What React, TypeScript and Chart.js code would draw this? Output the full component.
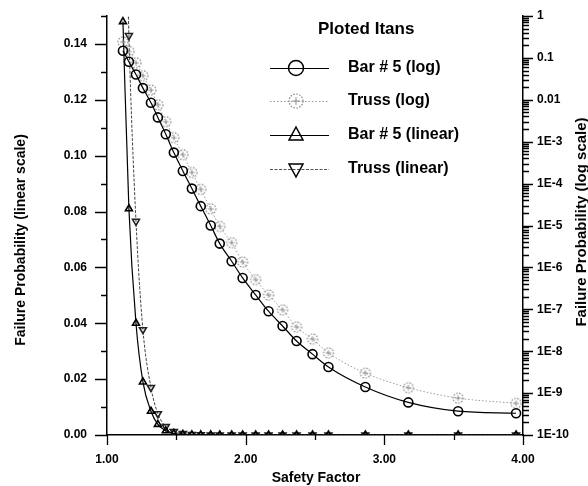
import { useEffect, useRef } from "react";
import { Chart, registerables } from "chart.js";

Chart.register(...registerables);

// ---- data ----
const safetyFactor = [
  1.115, 1.158, 1.209, 1.259, 1.317, 1.367, 1.424, 1.482, 1.547, 1.612, 1.676, 1.748, 1.813,
  1.899, 1.978, 2.072, 2.165, 2.266, 2.367, 2.482, 2.597, 2.863, 3.173, 3.532, 3.95,
];
const bar5Prob = [
  0.148, 0.081, 0.04, 0.019, 0.0085, 0.0038, 1.5e-3, 5.5e-4, 2.0e-4, 7.6e-5, 2.9e-5, 1.0e-5,
  3.7e-6, 1.4e-6, 5.6e-7, 2.2e-7, 9.0e-8, 4.0e-8, 1.75e-8, 8.5e-9, 4.2e-9, 1.4e-9, 6.0e-10,
  3.7e-10, 3.3e-10,
];
const trussProb = [
  0.24, 0.143, 0.0765, 0.0377, 0.017, 0.0076, 3.0e-3, 1.25e-3, 4.9e-4, 1.85e-4, 7.3e-5, 2.5e-5,
  9.5e-6, 3.9e-6, 1.35e-6, 5.1e-7, 2.2e-7, 9.7e-8, 3.8e-8, 1.95e-8, 9.1e-9, 3.0e-9, 1.35e-9,
  7.6e-10, 5.7e-10,
];

const xTicks = [1, 2, 3, 4];
const xMinorTicks = [1.5, 2.5, 3.5];
const linearTicks = [0, 0.02, 0.04, 0.06, 0.08, 0.1, 0.12, 0.14];
const linearMinorTicks = [0.01, 0.03, 0.05, 0.07, 0.09, 0.11, 0.13, 0.15];
const logExponents = [0, -1, -2, -3, -4, -5, -6, -7, -8, -9, -10];

const legendTitle = "Ploted Itans";
const seriesLabels = ["Bar # 5 (log)", "Truss (log)", "Bar # 5 (linear)", "Truss (linear)"];
const xTitle = "Safety Factor";
const yLeftTitle = "Failure Probability (linear scale)";
const yRightTitle = "Failure Probability (log scale)";

const FONT = '"Liberation Sans", Arial, Helvetica, sans-serif';

function logLabel(v: number): string {
  const e = Math.round(Math.log10(v));
  if (e === 0) return "1";
  if (e === -1) return "0.1";
  if (e === -2) return "0.01";
  return "1E" + e;
}

function makeTrussMarker(r: number): HTMLCanvasElement {
  const size = Math.ceil(r * 2 + 4);
  const c = document.createElement("canvas");
  c.width = size;
  c.height = size;
  const g = c.getContext("2d")!;
  const m = size / 2;
  g.strokeStyle = "#8a8a8a";
  g.lineWidth = 1.2;
  g.setLineDash([1.6, 1.4]);
  g.beginPath();
  g.arc(m, m, r, 0, Math.PI * 2);
  g.stroke();
  g.setLineDash([]);
  g.lineWidth = 1;
  g.beginPath();
  g.moveTo(m - r * 0.55, m);
  g.lineTo(m + r * 0.55, m);
  g.moveTo(m, m - r * 0.55);
  g.lineTo(m, m + r * 0.55);
  g.stroke();
  return c;
}

export default function App() {
  const ref = useRef<HTMLCanvasElement | null>(null);

  useEffect(() => {
    if (!ref.current) return;
    const trussMarker = makeTrussMarker(5);
    const trussLegendMarker = makeTrussMarker(7);

    const bar5Pts = safetyFactor.map((x, i) => ({ x, y: bar5Prob[i] }));
    const trussPts = safetyFactor.map((x, i) => ({ x, y: trussProb[i] }));

    const tickFont = { family: FONT, size: 12, weight: "bold" as const };

    const decorPlugin = {
      id: "decor",
      afterDraw(chart: any) {
        const ctx: CanvasRenderingContext2D = chart.ctx;
        const { left, right, bottom } = chart.chartArea;
        const xs = chart.scales.x;
        const yl = chart.scales.y;
        const yr = chart.scales.y2;
        ctx.save();
        ctx.strokeStyle = "#000";
        ctx.lineWidth = 1.3;
        ctx.beginPath();
        // left ticks
        linearTicks.forEach((v) => {
          const y = Math.round(yl.getPixelForValue(v)) + 0.5;
          ctx.moveTo(left - 12, y);
          ctx.lineTo(left, y);
        });
        linearMinorTicks.forEach((v) => {
          const y = Math.round(yl.getPixelForValue(v)) + 0.5;
          ctx.moveTo(left - 6, y);
          ctx.lineTo(left, y);
        });
        // bottom ticks
        xTicks.forEach((v) => {
          const x = Math.round(xs.getPixelForValue(v)) + 0.5;
          ctx.moveTo(x, bottom);
          ctx.lineTo(x, bottom + 10);
        });
        xMinorTicks.forEach((v) => {
          const x = Math.round(xs.getPixelForValue(v)) + 0.5;
          ctx.moveTo(x, bottom);
          ctx.lineTo(x, bottom + 5);
        });
        // right log ticks
        logExponents.forEach((e) => {
          const y = Math.round(yr.getPixelForValue(Math.pow(10, e))) + 0.5;
          ctx.moveTo(right, y);
          ctx.lineTo(right + 10, y);
          if (e < 0) {
            for (let k = 2; k <= 9; k++) {
              const ym = Math.round(yr.getPixelForValue(k * Math.pow(10, e))) + 0.5;
              ctx.moveTo(right, ym);
              ctx.lineTo(right + 6, ym);
            }
          }
        });
        ctx.stroke();

        // axis titles
        ctx.fillStyle = "#000";
        ctx.font = `bold 14px ${FONT}`;
        ctx.textAlign = "center";
        ctx.textBaseline = "middle";
        ctx.fillText(xTitle, (left + right) / 2 + 1, 478);
        ctx.save();
        ctx.translate(21, 240);
        ctx.rotate(-Math.PI / 2);
        ctx.fillText(yLeftTitle, 0, 0);
        ctx.restore();
        ctx.save();
        ctx.translate(582, 222);
        ctx.rotate(-Math.PI / 2);
        ctx.font = `bold 15px ${FONT}`;
        ctx.fillText(yRightTitle, 0, 0);
        ctx.restore();

        // legend
        ctx.textAlign = "left";
        ctx.font = `bold 17px ${FONT}`;
        ctx.fillText(legendTitle, 318, 29);
        const rows = [68, 101, 135, 169];
        const lx0 = 270;
        const lx1 = 329;
        const sx = 296;
        ctx.font = `bold 16px ${FONT}`;
        rows.forEach((ry, i) => {
          ctx.save();
          ctx.beginPath();
          if (i === 0 || i === 2) {
            ctx.strokeStyle = "#000";
            ctx.lineWidth = 1.2;
          } else if (i === 1) {
            ctx.strokeStyle = "#999";
            ctx.lineWidth = 1;
            ctx.setLineDash([1.5, 2]);
          } else {
            ctx.strokeStyle = "#555";
            ctx.lineWidth = 1;
            ctx.setLineDash([3, 1.5]);
          }
          ctx.moveTo(lx0, ry + 0.5);
          ctx.lineTo(lx1, ry + 0.5);
          ctx.stroke();
          ctx.setLineDash([]);
          ctx.strokeStyle = "#000";
          ctx.lineWidth = 1.5;
          if (i === 0) {
            ctx.beginPath();
            ctx.arc(sx, ry, 7.5, 0, Math.PI * 2);
            ctx.stroke();
          } else if (i === 1) {
            ctx.drawImage(trussLegendMarker, sx - trussLegendMarker.width / 2, ry - trussLegendMarker.height / 2);
          } else if (i === 2) {
            ctx.beginPath();
            ctx.moveTo(sx, ry - 8);
            ctx.lineTo(sx + 7, ry + 5);
            ctx.lineTo(sx - 7, ry + 5);
            ctx.closePath();
            ctx.stroke();
          } else {
            ctx.beginPath();
            ctx.moveTo(sx, ry + 8);
            ctx.lineTo(sx + 7, ry - 5);
            ctx.lineTo(sx - 7, ry - 5);
            ctx.closePath();
            ctx.stroke();
          }
          ctx.restore();
          ctx.fillStyle = "#000";
          ctx.textBaseline = "middle";
          ctx.fillText(seriesLabels[i], 348, ry);
        });
        ctx.restore();
      },
    };

    const chart = new Chart(ref.current, {
      type: "line",
      data: {
        datasets: [
          {
            label: seriesLabels[0],
            data: bar5Pts,
            yAxisID: "y2",
            borderColor: "#000",
            borderWidth: 1.2,
            pointStyle: "circle",
            pointRadius: 4.5,
            pointBorderWidth: 1.6,
            pointBorderColor: "#000",
            pointBackgroundColor: "rgba(0,0,0,0)",
            cubicInterpolationMode: "monotone",
            fill: false,
          },
          {
            label: seriesLabels[1],
            data: trussPts,
            yAxisID: "y2",
            borderColor: "#9a9a9a",
            borderWidth: 1,
            borderDash: [1.5, 2],
            pointStyle: trussMarker,
            pointRadius: 5,
            cubicInterpolationMode: "monotone",
            fill: false,
          },
          {
            label: seriesLabels[2],
            data: bar5Pts,
            yAxisID: "y",
            borderColor: "#000",
            borderWidth: 1.2,
            pointStyle: "triangle",
            pointRadius: 4,
            pointBorderWidth: 1.6,
            pointBorderColor: "#000",
            pointBackgroundColor: "rgba(0,0,0,0)",
            cubicInterpolationMode: "monotone",
            fill: false,
          },
          {
            label: seriesLabels[3],
            data: trussPts,
            yAxisID: "y",
            borderColor: "#444",
            borderWidth: 1,
            borderDash: [3, 1.5],
            pointStyle: "triangle",
            pointRotation: 180,
            pointRadius: 4,
            pointBorderWidth: 1.6,
            pointBorderColor: "#222",
            pointBackgroundColor: "rgba(0,0,0,0)",
            cubicInterpolationMode: "monotone",
            fill: false,
          },
        ],
      },
      options: {
        animation: false,
        responsive: true,
        maintainAspectRatio: false,
        layout: { padding: { top: 16, left: 0, right: 0, bottom: 0 } },
        plugins: { legend: { display: false }, tooltip: { enabled: false } },
        scales: {
          x: {
            type: "linear",
            min: 1,
            max: 4,
            afterBuildTicks: (s: any) => {
              s.ticks = xTicks.map((v) => ({ value: v }));
            },
            afterFit: (s: any) => {
              s.height = 51;
            },
            ticks: {
              callback: (v: any) => Number(v).toFixed(2),
              font: tickFont,
              color: "#000",
              padding: 0,
              maxRotation: 0,
              autoSkip: false,
            },
            grid: { display: false, drawTicks: true, tickLength: 17, tickColor: "rgba(0,0,0,0)" },
            border: { display: true, color: "#000", width: 1.5 },
          },
          y: {
            type: "linear",
            position: "left",
            min: 0,
            max: 0.15,
            afterBuildTicks: (s: any) => {
              s.ticks = linearTicks.map((v) => ({ value: v }));
            },
            afterFit: (s: any) => {
              s.width = 107;
            },
            ticks: {
              callback: (v: any) => Number(v).toFixed(2),
              font: tickFont,
              color: "#000",
              padding: 0,
              autoSkip: false,
            },
            grid: { display: false, drawTicks: true, tickLength: 20, tickColor: "rgba(0,0,0,0)" },
            border: { display: true, color: "#000", width: 1.5 },
          },
          y2: {
            type: "logarithmic",
            position: "right",
            min: 1e-10,
            max: 1,
            afterBuildTicks: (s: any) => {
              s.ticks = logExponents.map((e) => ({ value: Math.pow(10, e) }));
            },
            afterFit: (s: any) => {
              s.width = 65;
            },
            ticks: {
              callback: (v: any) => logLabel(Number(v)),
              font: tickFont,
              color: "#000",
              padding: 0,
              autoSkip: false,
            },
            grid: { display: false, drawTicks: true, tickLength: 14, tickColor: "rgba(0,0,0,0)" },
            border: { display: true, color: "#000", width: 1.5 },
          },
        },
      },
      plugins: [decorPlugin],
    } as any);

    return () => chart.destroy();
  }, []);

  return (
    <div
      style={{
        position: "fixed",
        left: 0,
        top: 0,
        width: 588,
        height: 486,
        background: "#fff",
      }}
    >
      <canvas ref={ref} />
    </div>
  );
}
